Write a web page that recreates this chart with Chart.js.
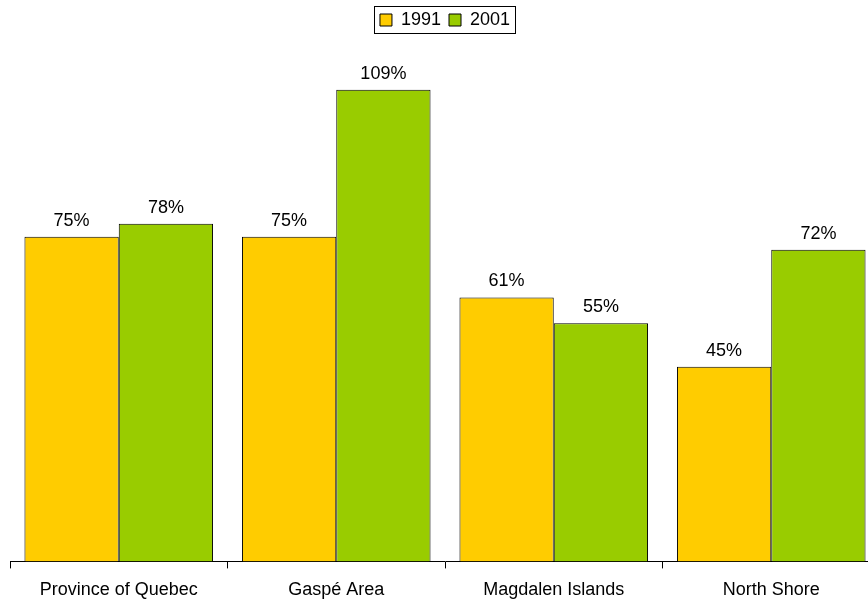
<!DOCTYPE html>
<html>
<head>
<meta charset="utf-8">
<script src="https://cdn.jsdelivr.net/npm/chart.js@4"></script>
<style>
  html, body { margin: 0; padding: 0; background: #fff; overflow: hidden; }
  #wrap { width: 880px; height: 600px; }
</style>
</head>
<body>
<div id="wrap"><canvas id="chart"></canvas></div>
<script>
const regions = ['Province of Quebec', 'Gaspé Area', 'Magdalen Islands', 'North Shore'];
const share1991 = [75, 75, 61, 45];
const share2001 = [78, 109, 55, 72];

Chart.defaults.font.family = '"Liberation Sans", Arial, sans-serif';
Chart.defaults.font.size = 18;
Chart.defaults.color = '#000';

// value labels on top of every bar
const barLabels = {
  id: 'barLabels',
  afterDatasetsDraw(chart) {
    const ctx = chart.ctx;
    ctx.save();
    ctx.font = '18px "Liberation Sans", Arial, sans-serif';
    ctx.fillStyle = '#000';
    ctx.textAlign = 'center';
    ctx.textBaseline = 'bottom';
    chart.data.datasets.forEach((ds, i) => {
      chart.getDatasetMeta(i).data.forEach((bar, j) => {
        ctx.fillText(ds.data[j] + '%', bar.x, bar.y - 7);
      });
    });
    ctx.restore();
  }
};

// thin frame round the legend
const legendFrame = {
  id: 'legendFrame',
  afterDraw(chart) {
    const boxes = chart.legend.legendHitBoxes;
    if (!boxes || !boxes.length) return;
    const first = boxes[0], last = boxes[boxes.length - 1];
    const ctx = chart.ctx;
    ctx.save();
    ctx.strokeStyle = '#000';
    ctx.lineWidth = 1;
    const x0 = Math.round(first.left) - 5.5;
    const x1 = Math.round(last.left + last.width) + 5.5;
    const y0 = Math.round(first.top) - 4.5;
    const y1 = Math.round(first.top + first.height) + 4.5;
    ctx.strokeRect(x0, y0, x1 - x0, y1 - y0);
    ctx.restore();
  }
};

new Chart(document.getElementById('chart'), {
  type: 'bar',
  data: {
    labels: regions,
    datasets: [
      {
        label: '1991',
        data: share1991,
        backgroundColor: '#FFCC00',
        borderColor: '#000',
        borderWidth: 1,
        borderSkipped: 'bottom'
      },
      {
        label: '2001',
        data: share2001,
        backgroundColor: '#99CC00',
        borderColor: '#000',
        borderWidth: 1,
        borderSkipped: 'bottom'
      }
    ]
  },
  options: {
    responsive: true,
    maintainAspectRatio: false,
    animation: false,
    datasets: {
      bar: { categoryPercentage: 0.867, barPercentage: 1.0 }
    },
    layout: { padding: { left: 10, right: 0, top: 3, bottom: 0 } },
    plugins: {
      legend: {
        position: 'top',
        labels: { boxWidth: 12, boxHeight: 12, padding: 8 }
      },
      tooltip: { enabled: false }
    },
    scales: {
      x: {
        grid: {
          display: true,
          drawOnChartArea: false,
          color: '#000',
          tickLength: 7,
          offset: true
        },
        border: { display: true, color: '#000' },
        ticks: { padding: 11 },
        // padding is counted twice in the axis height; give the extra back
        afterFit(scale) { scale.height -= 12; }
      },
      y: {
        display: false,
        min: 0,
        max: 120.7
      }
    }
  },
  plugins: [barLabels, legendFrame]
});
</script>
</body>
</html>
